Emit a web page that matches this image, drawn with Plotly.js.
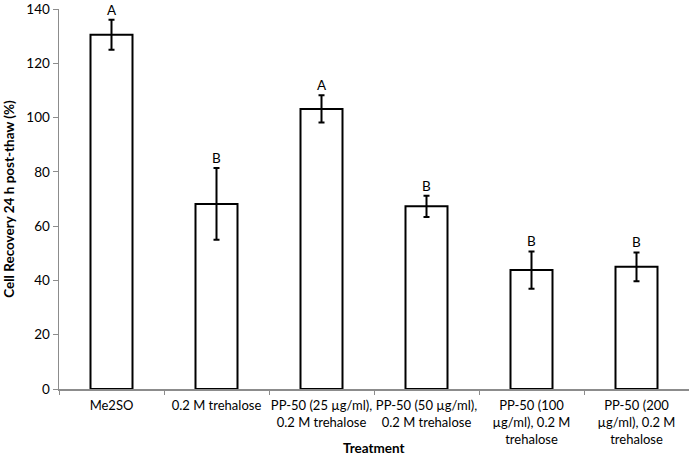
<!DOCTYPE html>
<html>
<head>
<meta charset="utf-8">
<script src="https://cdn.plot.ly/plotly-3.0.1.min.js"></script>
<style>
  html, body { margin: 0; padding: 0; background: #fff; }
  #chart { width: 689px; height: 464px; }
</style>
</head>
<body>
<div id="chart"></div>
<script>
const treatments = [
  "Me2SO",
  "0.2 M trehalose",
  "PP-50 (25 µg/ml),<br>0.2 M trehalose",
  "PP-50 (50 µg/ml),<br>0.2 M trehalose",
  "PP-50 (100<br>µg/ml), 0.2 M<br>trehalose",
  "PP-50 (200<br>µg/ml), 0.2 M<br>trehalose"
];
const recovery = [130.5, 68.2, 103.2, 67.3, 43.8, 45.0];
const errors = [5.5, 13.2, 5.0, 3.9, 6.9, 5.3];
const letters = ["A", "B", "A", "B", "B", "B"];

const trace = {
  type: 'bar',
  x: treatments,
  y: recovery,
  marker: { color: '#ffffff', line: { color: '#000000', width: 2 } },
  error_y: { type: 'data', array: errors, visible: true, color: '#000000', thickness: 2, width: 3 },
  hoverinfo: 'skip'
};

// significance letters above each error bar
const notes = treatments.map(function (t, i) {
  return {
    x: t, y: recovery[i] + errors[i],
    text: letters[i], showarrow: false,
    yanchor: 'bottom', yshift: 0,
    font: { family: 'Lato, sans-serif', size: 13.5, color: '#000' }
  };
});
// axis title placed by hand so it sits beside the last wrapped labels
notes.push({
  xref: 'paper', yref: 'paper', x: 0.5, y: 0,
  yanchor: 'middle', yshift: -59, showarrow: false,
  text: '<b>Treatment</b>',
  font: { family: 'Lato, sans-serif', size: 13.5, color: '#000' }
});

const layout = {
  width: 689, height: 464,
  margin: { l: 59, r: 0, t: 9, b: 75 },
  paper_bgcolor: '#fff', plot_bgcolor: '#fff',
  showlegend: false,
  bargap: 0.6,
  font: { family: 'Lato, sans-serif', size: 13, color: '#000' },
  xaxis: {
    type: 'category',
    showline: true, linecolor: '#8c8c8c', linewidth: 1.5,
    ticks: 'outside', tickson: 'boundaries', ticklen: 4, tickcolor: '#8c8c8c',
    tickangle: 0, ticklabeloverflow: 'allow', ticklabelstandoff: 4,
    tickfont: { size: 13, color: '#000' },
    zeroline: false
  },
  yaxis: {
    range: [0, 140], tickvals: [0, 20, 40, 60, 80, 100, 120, 140],
    showline: true, linecolor: '#8c8c8c', linewidth: 1.5,
    ticks: 'outside', ticklen: 5, tickcolor: '#8c8c8c',
    ticklabeloverflow: 'allow',
    showgrid: false, zeroline: false,
    tickfont: { size: 13.5, color: '#000' },
    title: { text: '<b>Cell Recovery 24 h post-thaw (%)</b>', font: { size: 13.5 }, standoff: 8 }
  },
  annotations: notes
};

Plotly.newPlot('chart', [trace], layout, { displayModeBar: false, staticPlot: true });
</script>
</body>
</html>
